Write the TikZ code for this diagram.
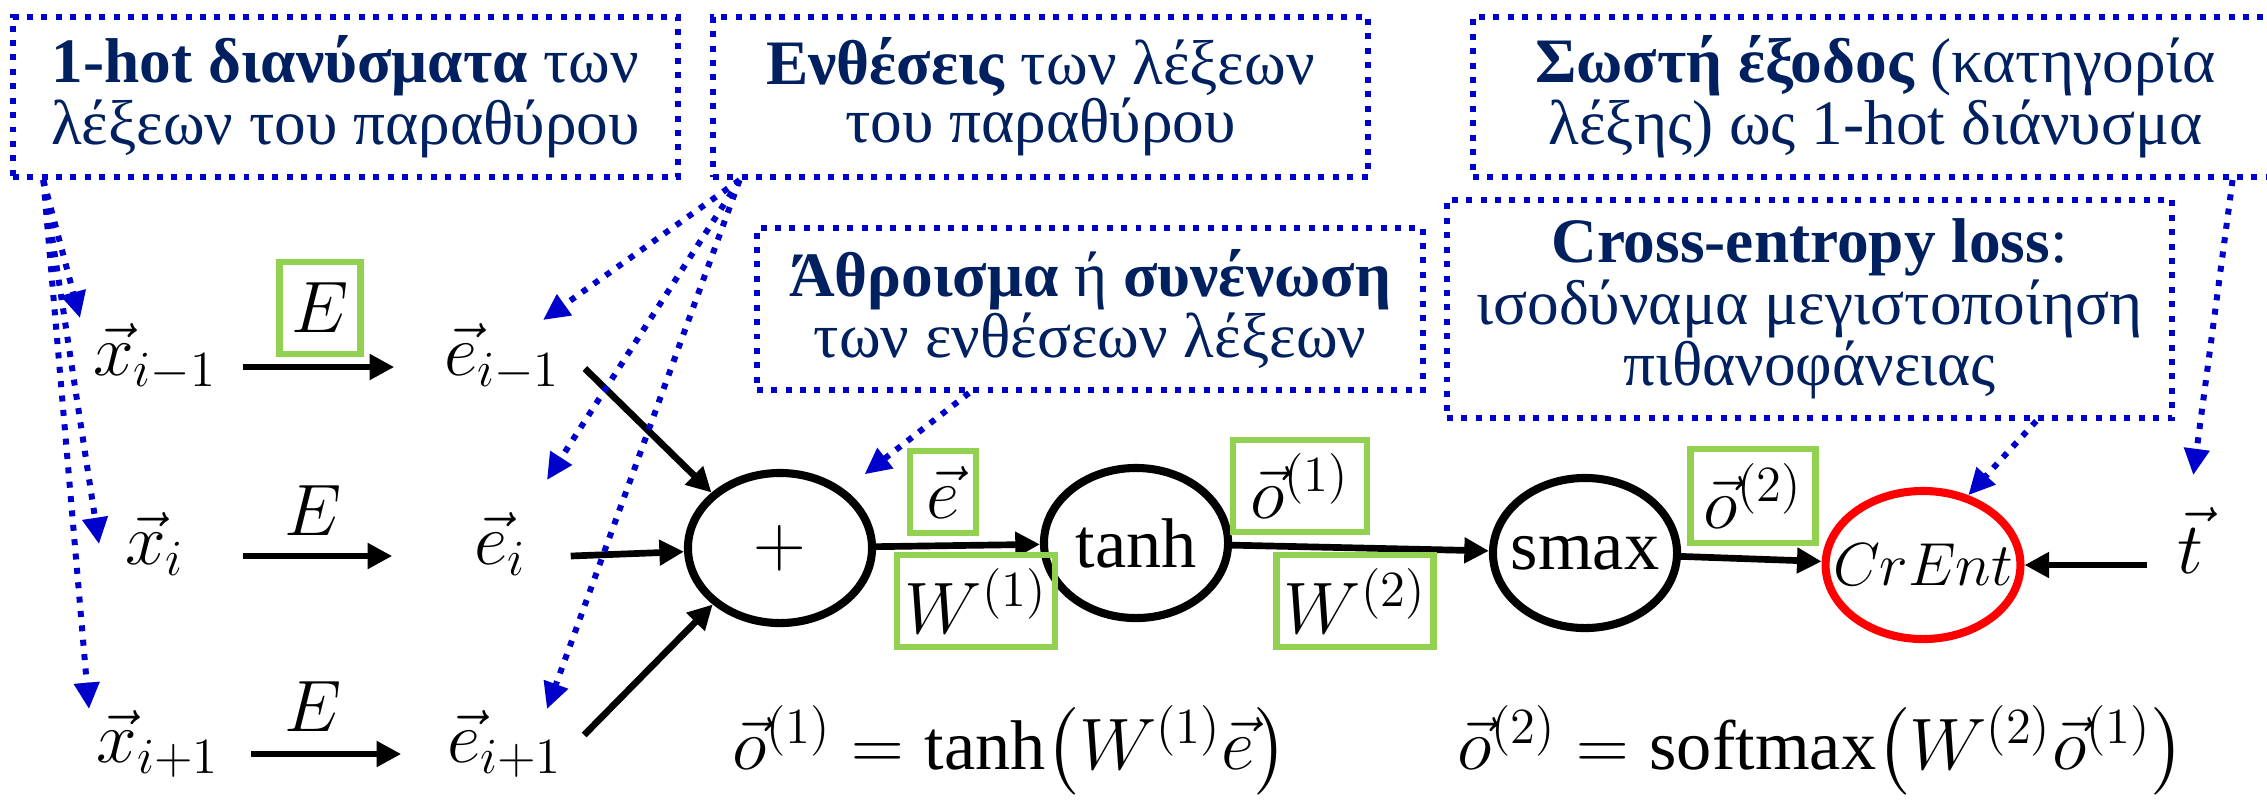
\documentclass[tikz,border=0pt]{standalone}
\usepackage{amsmath}
\usepackage{fontspec}
\setmainfont{Liberation Serif}
\usetikzlibrary{arrows.meta,shapes.geometric,calc}

\definecolor{navytxt}{RGB}{0,32,96}
\definecolor{callblue}{RGB}{0,0,205}
\definecolor{boxgreen}{RGB}{146,208,80}

\begin{document}
\begin{tikzpicture}[
    x=0.01cm, y=-0.01cm,
    callout/.style={draw=callblue, line width=1.7pt, dash pattern=on 1.7pt off 2.4pt, text=navytxt, align=center, inner sep=0pt, font=\fontsize{18}{16.5}\selectfont},
    pointer/.style={draw=callblue, line width=1.7pt, dash pattern=on 1.7pt off 2.4pt, -{Triangle[length=7.5pt,width=7pt]}},
    wordvec/.style={anchor=mid, inner sep=2pt, font=\fontsize{21}{24}\selectfont},
    weightbox/.style={draw=boxgreen, line width=1.8pt, inner sep=0pt, font=\fontsize{20}{24}\selectfont},
    opnode/.style={ellipse, draw, line width=2.3pt, minimum width=1.84cm, minimum height=1.5cm, inner xsep=-6pt, inner ysep=0pt, font=\fontsize{20}{24}\selectfont},
    arrow/.style={-{Triangle[length=7pt,width=7pt]}, line width=1.9pt}
]
\useasboundingbox (0,0) rectangle (2267,808);

% Callout boxes
\node[callout, minimum width=6.65cm, minimum height=1.6cm] (onehot) at (345.5,97) {\textbf{1-hot διανύσματα} των\\λέξεων του παραθύρου};
\node[callout, minimum width=6.55cm, minimum height=1.6cm] (embed) at (1040.5,97) {\textbf{Ενθέσεις} των λέξεων\\του παραθύρου};
\node[callout, minimum width=6.66cm, minimum height=1.62cm] (sum) at (1090,309) {\textbf{Άθροισμα} ή \textbf{συνένωση}\\των ενθέσεων λέξεων};
\node[callout, minimum width=8.05cm, minimum height=1.6cm] (target) at (1875.5,97) {\textbf{Σωστή έξοδος} (κατηγορία\\λέξης) ως 1-hot διάνυσμα};
\node[callout, minimum width=7.25cm, minimum height=2.18cm] (lossnote) at (1809.5,309) {\textbf{Cross-entropy loss}:\\ισοδύναμα μεγιστοποίηση\\πιθανοφάνειας};

% Window words and embeddings
\node[wordvec, minimum width=1.45cm] (x1) at (155,367) {$\vec{x}_{i-1}$};
\node[wordvec, minimum width=1.45cm] (x2) at (155,556) {$\vec{x}_{i}$};
\node[wordvec, minimum width=1.45cm] (x3) at (158,754) {$\vec{x}_{i+1}$};
\node[wordvec, minimum width=1.4cm] (e1) at (502,367) {$\vec{e}_{i-1}$};
\node[wordvec, minimum width=1.4cm] (e2) at (500,556) {$\vec{e}_{i}$};
\node[wordvec, minimum width=1.4cm] (e3) at (505,754) {$\vec{e}_{i+1}$};

\node[weightbox, minimum width=0.81cm, minimum height=0.92cm] (E1) at (320,308) {$E$};
\node[font=\fontsize{20}{24}\selectfont] (E2) at (313,511) {$E$};
\node[font=\fontsize{20}{24}\selectfont] (E3) at (313,707) {$E$};

\draw[arrow, shorten <=0.15cm, shorten >=0.37cm] (x1.mid east) -- (e1.mid west);
\draw[arrow, shorten <=0.15cm, shorten >=0.37cm] (x2.mid east) -- (e2.mid west);
\draw[arrow, shorten <=0.2cm, shorten >=0.33cm] (x3.mid east) -- (e3.mid west);

% Network
\node[opnode] (plus) at (780,548) {$+$};
\node[opnode] (tanh) at (1136,543) {tanh};
\node[opnode] (smax) at (1585,553) {smax};
\node[opnode, draw=red, minimum width=1.88cm, minimum height=1.48cm, font=\fontsize{18.5}{20}\selectfont] (crent) at (1923,565) {$CrEnt$};
\node[wordvec] (t) at (2190,565) {$\vec{t}$};

\draw[arrow, shorten <=0.17cm] (e1.east) -- (plus.141);
\draw[arrow] (e2.mid east) -- (plus);
\draw[arrow, shorten <=0.12cm] (e3.east) -- (plus.220);
\draw[arrow] (plus) -- (tanh);
\draw[arrow] (tanh) -- (smax);
\draw[arrow] (smax) -- (crent);
\draw[arrow, shorten <=0.22cm] (t.mid west) -- (crent);

\node[weightbox, minimum width=0.66cm, minimum height=0.82cm] (evec) at (943,492) {$\vec{e}$};
\node[weightbox, minimum width=1.58cm, minimum height=0.92cm] (W1) at (976,601) {$W^{(1)}$};
\node[weightbox, minimum width=1.34cm, minimum height=0.92cm] (o1) at (1300,486) {$\vec{o}^{(1)}$};
\node[weightbox, minimum width=1.57cm, minimum height=0.92cm] (W2) at (1355,601) {$W^{(2)}$};
\node[weightbox, minimum width=1.25cm, minimum height=0.94cm] (o2) at (1753,496) {$\vec{o}^{(2)}$};

% Equations
\node[font=\fontsize{20}{24}\selectfont] (eq1) at (1010,750) {$\vec{o}^{(1)} = \tanh\bigl(W^{(1)}\vec{e}\bigr)$};
\node[font=\fontsize{20}{24}\selectfont] (eq2) at (1821,750) {$\vec{o}^{(2)} = \operatorname{softmax}\bigl(W^{(2)}\vec{o}^{(1)}\bigr)$};

% Pointers from the callouts
\coordinate (p1) at ($(onehot.south west)!0.05!(onehot.south east)$);
\coordinate (p2) at ($(embed.south west)!0.045!(embed.south east)$);
\coordinate (p3) at ($(sum.south west)!0.32!(sum.south east)$);
\coordinate (p4) at ($(target.south west)!0.94!(target.south east)$);
\coordinate (p5) at ($(lossnote.south west)!0.81!(lossnote.south east)$);
\coordinate (tipx1) at (80,318);
\coordinate (tipx2) at (99,544);
\coordinate (tipx3) at (89,709);
\coordinate (tipe1) at (543,320);
\coordinate (tipe2) at (547,480);
\coordinate (tipe3) at (547,709);

\draw[pointer] (p1) -- (tipx1);
\draw[pointer] (p1) -- (tipx2);
\draw[pointer] (p1) -- (tipx3);
\draw[pointer] (p2) -- (tipe1);
\draw[pointer] (p2) -- (tipe2);
\draw[pointer] (p2) -- (tipe3);
\draw[pointer, shorten >=0.25cm] (p3) -- (plus.42);
\draw[pointer] (p5) -- (crent.57);
\draw[pointer, shorten >=0.25cm] (p4) -- (t.north);

\end{tikzpicture}
\end{document}
